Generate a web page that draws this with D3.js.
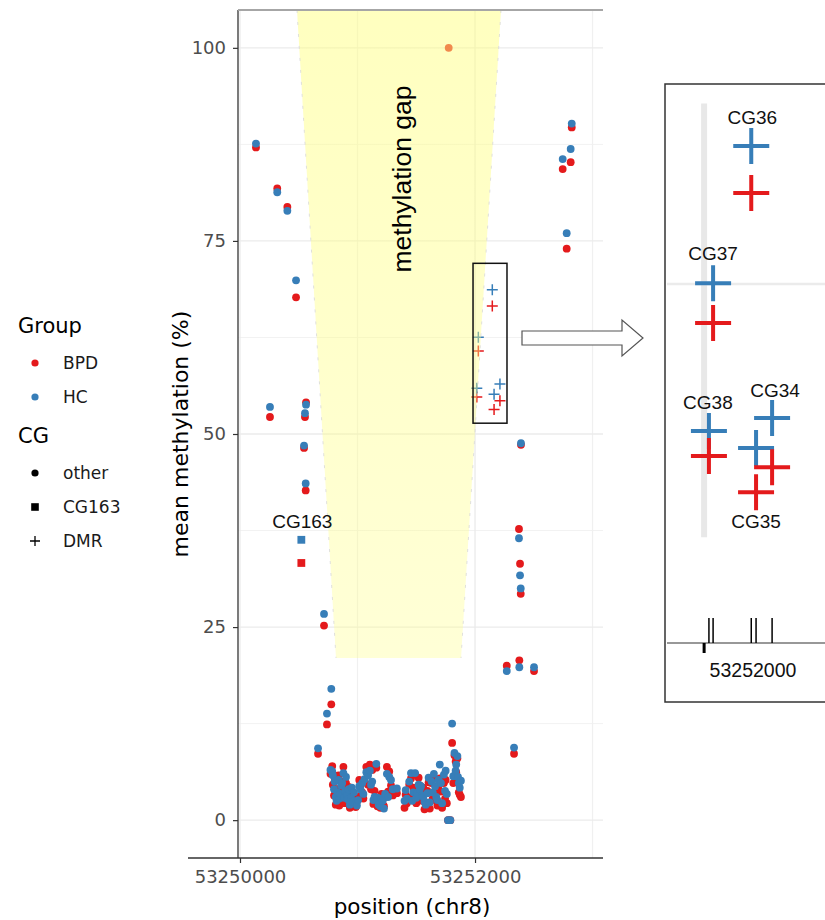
<!DOCTYPE html>
<html>
<head>
<meta charset="utf-8">
<script src="https://cdn.jsdelivr.net/npm/d3@7"></script>
<style>
  body { margin: 0; background: #fff; }
  svg { display: block; }
</style>
</head>
<body>
<div class="canvas"></div>
<script>
// mean methylation around the methylation gap on chr8

const width = 825;
const height = 920;

// CpG positions and group means (%), null = not shown
const positions = [
  53250136, 53250255, 53250317, 53250403, 53250477, 53250545, 53250553, 53250559, 53250562, 53250664,
  53250715, 53250740, 53250770, 53250777, 53250785, 53250790, 53250800, 53250805, 53250815, 53250822,
  53250830, 53250838, 53250845, 53250852, 53250860, 53250870, 53250880, 53250888, 53250895, 53250902,
  53250910, 53250918, 53250925, 53250935, 53250945, 53250952, 53250960, 53250970, 53250985, 53250995,
  53251005, 53251015, 53251025, 53251040, 53251050, 53251060, 53251075, 53251090, 53251105, 53251115,
  53251125, 53251135, 53251145, 53251160, 53251170, 53251180, 53251195, 53251205, 53251215, 53251225,
  53251235, 53251250, 53251260, 53251270, 53251285, 53251300, 53251335, 53251400, 53251410, 53251420,
  53251440, 53251455, 53251465, 53251475, 53251490, 53251500, 53251510, 53251520, 53251530, 53251540,
  53251550, 53251560, 53251570, 53251580, 53251595, 53251605, 53251615, 53251630, 53251640, 53251650,
  53251660, 53251670, 53251680, 53251690, 53251700, 53251710, 53251720, 53251735, 53251745, 53251750,
  53251760, 53251770, 53251776, 53251790, 53251805, 53251815, 53251825, 53251835, 53251840, 53251850,
  53251855, 53251862, 53251870, 53251880, 53252270, 53252332, 53252374, 53252377, 53252383, 53252389,
  53252391, 53252502, 53252746, 53252780, 53252814, 53252823
];
const bpdMean = [
  87.1, 52.2, 81.8, 79.4, 67.7, 48.2, 52.2, 42.7, 54.1, 8.6,
  25.2, 12.4, 6.0, 15.0, 7.0, 4.6, 3.2, 5.5, 2.0, 3.5,
  4.0, 5.8, 1.9, 2.6, 5.0, 3.9, 6.9, 2.2, 3.5, 4.8,
  2.8, 3.3, 4.3, 1.6, 2.5, 3.6, 1.9, 2.9, 1.7, 2.4,
  3.0, 5.2, 4.5, 3.6, 2.8, 5.0, 6.9, 4.6, 7.2, 4.0,
  6.5, 2.1, 3.8, 6.8, 1.8, 2.3, 1.6, 3.4, 2.0, 1.8,
  3.0, 6.9, 3.7, 6.3, 4.5, 3.2, 3.5, 1.6, 3.3, 2.2,
  4.6, 5.4, 3.0, 4.2, 5.9, 2.2, 3.0, 5.5, 4.5, 3.8,
  2.5, 4.2, 1.4, 2.3, 3.8, 4.9, 1.5, 4.8, 2.8, 5.5,
  3.6, 2.5, 1.9, 4.5, 5.4, 3.7, 1.6, 4.8, 2.8, 5.2,
  2.2, 0.0, 100.0, 0.0, 10.0, 4.8, 8.4, 7.6, 6.2, 8.0,
  4.9, 3.6, 3.3, 3.0, 20.0, 8.6, 37.7, 20.7, 33.2, 29.3,
  48.6, 19.3, 84.3, 74.0, 85.2, 89.7
];
const hcMean = [
  87.6, 53.5, 81.3, 78.9, 69.9, 48.5, 52.7, 43.6, 53.8, 9.3,
  26.7, 13.8, 6.5, 17.0, 6.3, 5.8, 4.0, 5.0, 3.0, 2.5,
  3.6, 5.2, 2.8, 3.4, 4.5, 4.8, 6.1, 2.9, 3.8, 5.6,
  3.2, 2.7, 4.0, 2.0, 2.9, 4.2, 2.4, 3.6, 2.2, 1.9,
  2.6, 4.4, 4.0, 4.8, 3.4, 5.3, 6.2, 5.8, 6.4, 4.6,
  5.0, 2.6, 3.0, 7.3, 2.9, 2.0, 1.8, 2.8, 2.5, 1.5,
  3.4, 6.0, 3.0, 5.6, 5.2, 4.0, 4.1, 2.5, 3.9, 2.8,
  5.0, 6.1, 2.5, 3.6, 6.1, 2.9, 3.5, 4.6, 4.0, 4.4,
  3.2, 3.0, 2.4, 2.0, 3.5, 5.5, 2.3, 5.0, 3.6, 6.0,
  4.4, 3.0, 2.6, 5.2, 7.2, 4.8, 2.2, 5.9, 3.8, 6.4,
  3.4, 0.0, null, 0.0, 12.5, 5.7, 8.7, 6.4, 7.2, 8.3,
  5.6, 4.8, 4.2, 5.1, 19.3, 9.4, 36.5, 19.8, 31.7, 30.0,
  48.8, 19.8, 85.6, 76.0, 86.9, 90.2
];

// CG163
const cg163Pos = 53250522;
const cg163Bpd = 33.3;
const cg163Hc = 36.3;

// DMR CpGs
const dmrNames = ["CG38", "CG37", "CG36", "CG35", "CG34"];
const dmrPos = [53252015, 53252028, 53252147, 53252162, 53252212];
const dmrBpd = [54.79, 60.75, 66.58, 53.17, 54.29];
const dmrHc = [55.91, 62.54, 68.69, 55.15, 56.49];

const groups = ["BPD", "HC"];
const cgTypes = ["other", "CG163", "DMR"];

const yTicks = [0, 25, 50, 75, 100];
const yMinor = [12.5, 37.5, 62.5, 87.5];
const xTicks = [53250000, 53252000];
const xMinor = [53251000, 53253000];
const insetTick = 53252000;

// methylation gap polygon (position, %)
const gapPos = [53250485, 53252221, 53251881, 53250817];
const gapVal = [104.9, 104.9, 21.0, 21.0];

// box round the DMR in the main panel
const dmrBoxPos = [53251983, 53252272];
const dmrBoxVal = [51.4, 72.1];

const colorScale = d3.scaleOrdinal().domain(groups).range(["#e41a1c", "#377eb8"]);

const tickFont = "DejaVu Sans, sans-serif";
const annoFont = "Liberation Sans, Arial, sans-serif";
const ptR = 3.9;

const svg = d3.select(".canvas").append("svg")
  .attr("width", width)
  .attr("height", height);

const x = d3.scaleLinear().domain([53249983, 53253089]).range([238, 603]);
const y = d3.scaleLinear().domain([-4.9, 104.9]).range([858, 10]);

const [pLeft, pRight] = x.range();
const [pBottom, pTop] = y.range();

// grid
const grid = svg.append("g");
grid.selectAll(".hmin").data(yMinor).join("line")
  .attr("x1", pLeft).attr("x2", pRight)
  .attr("y1", d => y(d)).attr("y2", d => y(d))
  .attr("stroke", "#f2f2f2").attr("stroke-width", 1);
grid.selectAll(".vmin").data(xMinor).join("line")
  .attr("x1", d => x(d)).attr("x2", d => x(d))
  .attr("y1", pTop).attr("y2", pBottom)
  .attr("stroke", "#f0f0f0").attr("stroke-width", 1.2);
grid.selectAll(".hmaj").data(yTicks).join("line")
  .attr("x1", pLeft).attr("x2", pRight)
  .attr("y1", d => y(d)).attr("y2", d => y(d))
  .attr("stroke", "#ebebeb").attr("stroke-width", 1.3);
grid.selectAll(".vmaj").data(xTicks).join("line")
  .attr("x1", d => x(d)).attr("x2", d => x(d))
  .attr("y1", pTop).attr("y2", pBottom)
  .attr("stroke", "#ebebeb").attr("stroke-width", 1.3);

// points, BPD first then HC on top
const rows = positions.map((p, i) => ({ pos: p, BPD: bpdMean[i], HC: hcMean[i] }));
groups.forEach(g => {
  svg.append("g").selectAll("circle")
    .data(rows.filter(d => d[g] != null))
    .join("circle")
    .attr("cx", d => x(d.pos))
    .attr("cy", d => y(d[g]))
    .attr("r", ptR)
    .attr("fill", colorScale(g));
});

// CG163 squares
[["BPD", cg163Bpd], ["HC", cg163Hc]].forEach(([g, v]) => {
  svg.append("rect")
    .attr("x", x(cg163Pos) - 3.9).attr("y", y(v) - 3.9)
    .attr("width", 7.8).attr("height", 7.8)
    .attr("fill", colorScale(g));
});

// DMR crosses
const crossPath = s => `M${-s},0H${s}M0,${-s}V${s}`;
const dmrRows = dmrPos.map((p, i) => ({ name: dmrNames[i], pos: p, BPD: dmrBpd[i], HC: dmrHc[i] }));
groups.forEach(g => {
  svg.append("g").selectAll("path")
    .data(dmrRows)
    .join("path")
    .attr("d", crossPath(5.5))
    .attr("transform", d => `translate(${x(d.pos)},${y(d[g])})`)
    .attr("stroke", colorScale(g))
    .attr("stroke-width", 1.5)
    .attr("fill", "none");
});

// methylation gap band, drawn over the points
const defs = svg.append("defs");
const grad = defs.append("linearGradient").attr("id", "gapFill")
  .attr("x1", 0).attr("y1", 0).attr("x2", 0).attr("y2", 1);
grad.append("stop").attr("offset", "0%").attr("stop-color", "#ffff80").attr("stop-opacity", 0.5);
grad.append("stop").attr("offset", "100%").attr("stop-color", "#ffff80").attr("stop-opacity", 0.32);

const gapPts = gapPos.map((p, i) => [x(p), y(gapVal[i])]);
svg.append("path")
  .attr("d", d3.line()(gapPts) + "Z")
  .attr("fill", "url(#gapFill)");
// faint dashed sides
[[0, 3], [1, 2]].forEach(([a, b]) => {
  svg.append("line")
    .attr("x1", gapPts[a][0]).attr("y1", gapPts[a][1])
    .attr("x2", gapPts[b][0]).attr("y2", gapPts[b][1])
    .attr("stroke", "#d8d8d8").attr("stroke-width", 0.8)
    .attr("stroke-dasharray", "3,9");
});

const gapCx = d3.mean(gapPts, d => d[0]);
svg.append("text")
  .attr("transform", `translate(${gapCx + 12},179) rotate(-90)`)
  .attr("text-anchor", "middle")
  .style("font-family", annoFont)
  .style("font-size", "26.5px")
  .attr("fill", "#000")
  .text("methylation gap");

// CG163 label
svg.append("text")
  .attr("x", x(cg163Pos) + 1)
  .attr("y", y(cg163Hc) - 12)
  .attr("text-anchor", "middle")
  .style("font-family", annoFont)
  .style("font-size", "19px")
  .attr("fill", "#111")
  .text("CG163");

// box round the DMR
svg.append("rect")
  .attr("x", x(dmrBoxPos[0])).attr("y", y(dmrBoxVal[1]))
  .attr("width", x(dmrBoxPos[1]) - x(dmrBoxPos[0]))
  .attr("height", y(dmrBoxVal[0]) - y(dmrBoxVal[1]))
  .attr("fill", "none").attr("stroke", "#111").attr("stroke-width", 1.5);

// axes
const gx = svg.append("g")
  .attr("transform", `translate(0,${pBottom})`)
  .call(d3.axisBottom(x).tickValues(xTicks).tickFormat(d3.format("d")).tickSize(5).tickPadding(7));
const gy = svg.append("g")
  .attr("transform", `translate(${pLeft},0)`)
  .call(d3.axisLeft(y).tickValues(yTicks).tickSize(5).tickPadding(7));
[gx, gy].forEach(g => {
  g.select(".domain").remove();
  g.selectAll(".tick line").attr("stroke", "#333").attr("stroke-width", 1.2);
  g.selectAll(".tick text")
    .attr("fill", "#4d4d4d")
    .style("font-family", tickFont)
    .style("font-size", "18px");
});

svg.append("line")
  .attr("x1", pLeft).attr("x2", pLeft).attr("y1", pTop).attr("y2", pBottom)
  .attr("stroke", "#333").attr("stroke-width", 1.3);
svg.append("line")
  .attr("x1", 188).attr("x2", pRight).attr("y1", pBottom).attr("y2", pBottom)
  .attr("stroke", "#333").attr("stroke-width", 1.3);
svg.append("line")
  .attr("x1", pLeft).attr("x2", pRight).attr("y1", pTop).attr("y2", pTop)
  .attr("stroke", "#a6a6a6").attr("stroke-width", 2);

svg.append("text")
  .attr("x", 412).attr("y", 914)
  .attr("text-anchor", "middle")
  .style("font-family", tickFont)
  .style("font-size", "21.5px")
  .attr("fill", "#000")
  .text("position (chr8)");

svg.append("text")
  .attr("transform", `translate(188,${(pTop + pBottom) / 2}) rotate(-90)`)
  .attr("text-anchor", "middle")
  .style("font-family", tickFont)
  .style("font-size", "22px")
  .attr("fill", "#000")
  .text("mean methylation (%)");

// legend
const legend = svg.append("g").style("font-family", tickFont);
legend.append("text").attr("x", 18).attr("y", 333)
  .style("font-size", "21px").attr("fill", "#000").text("Group");
groups.forEach((g, i) => {
  const cy = 363 + i * 34;
  legend.append("circle").attr("cx", 35).attr("cy", cy).attr("r", 3.6).attr("fill", colorScale(g));
  legend.append("text").attr("x", 63).attr("y", cy + 6)
    .style("font-size", "17px").attr("fill", "#1a1a1a").text(g);
});
legend.append("text").attr("x", 18).attr("y", 443)
  .style("font-size", "21px").attr("fill", "#000").text("CG");
cgTypes.forEach((t, i) => {
  const cy = 473 + i * 34;
  if (t === "other") {
    legend.append("circle").attr("cx", 35).attr("cy", cy).attr("r", 3.6).attr("fill", "#000");
  } else if (t === "CG163") {
    legend.append("rect").attr("x", 31.2).attr("y", cy - 3.8).attr("width", 7.6).attr("height", 7.6).attr("fill", "#000");
  } else {
    legend.append("path").attr("d", crossPath(5)).attr("transform", `translate(35,${cy})`)
      .attr("stroke", "#000").attr("stroke-width", 1.3).attr("fill", "none");
  }
  legend.append("text").attr("x", 63).attr("y", cy + 6)
    .style("font-size", "17px").attr("fill", "#1a1a1a").text(t);
});

// outline arrow to the inset
const arrowPts = [[522, 331], [622, 331], [622, 320], [643, 338], [622, 356], [622, 345], [522, 345]];
svg.append("path")
  .attr("d", d3.line()(arrowPts) + "Z")
  .attr("fill", "#fff").attr("stroke", "#555").attr("stroke-width", 1.2);

// inset: zoom on the DMR
const xi = d3.scaleLinear().domain([53251878, 53252377]).range([665, 825]);
const yi = d3.scaleLinear().domain([43.76, 71.47]).range([702, 84]);
const inset = svg.append("g");

inset.append("rect")
  .attr("x", 665).attr("y", 84).attr("width", 162).attr("height", 618)
  .attr("fill", "#fff").attr("stroke", "#333").attr("stroke-width", 1.5);

inset.append("line")
  .attr("x1", xi(insetTick)).attr("x2", xi(insetTick))
  .attr("y1", yi(70.6)).attr("y2", yi(51.15))
  .attr("stroke", "#e8e8e8").attr("stroke-width", 6);
inset.append("line")
  .attr("x1", 667).attr("x2", 825)
  .attr("y1", yi(62.5)).attr("y2", yi(62.5))
  .attr("stroke", "#ebebeb").attr("stroke-width", 2.5);

// inset crosses, HC then BPD
["HC", "BPD"].forEach(g => {
  inset.append("g").selectAll("path")
    .data(dmrRows)
    .join("path")
    .attr("d", crossPath(18))
    .attr("transform", d => `translate(${xi(d.pos)},${yi(d[g])})`)
    .attr("stroke", colorScale(g))
    .attr("stroke-width", 4)
    .attr("fill", "none");
});

// inset labels: above the HC cross, CG35 below its BPD cross
const labelShift = { CG38: [-1, -22], CG37: [0, -23], CG36: [1, -22], CG35: [0, 36], CG34: [3, -21] };
inset.selectAll(".cglab")
  .data(dmrRows)
  .join("text")
  .attr("x", d => xi(d.pos) + labelShift[d.name][0])
  .attr("y", d => (d.name === "CG35" ? yi(d.BPD) : yi(d.HC)) + labelShift[d.name][1])
  .attr("text-anchor", "middle")
  .style("font-family", annoFont)
  .style("font-size", "19px")
  .attr("fill", "#111")
  .text(d => d.name);

// inset position axis with rug of DMR CpGs
const axisY = 643;
inset.append("line")
  .attr("x1", 667).attr("x2", 825).attr("y1", axisY).attr("y2", axisY)
  .attr("stroke", "#333").attr("stroke-width", 1.2);
inset.selectAll(".rug")
  .data(dmrPos)
  .join("line")
  .attr("x1", d => xi(d)).attr("x2", d => xi(d))
  .attr("y1", axisY - 25).attr("y2", axisY)
  .attr("stroke", "#000").attr("stroke-width", 1.5);
inset.append("rect")
  .attr("x", xi(insetTick) - 1.5).attr("y", axisY)
  .attr("width", 3).attr("height", 10)
  .attr("fill", "#000");
inset.append("text")
  .attr("x", 753).attr("y", 677)
  .attr("text-anchor", "middle")
  .style("font-family", annoFont)
  .style("font-size", "19.5px")
  .attr("fill", "#111")
  .text(d3.format("d")(insetTick));
</script>
</body>
</html>
